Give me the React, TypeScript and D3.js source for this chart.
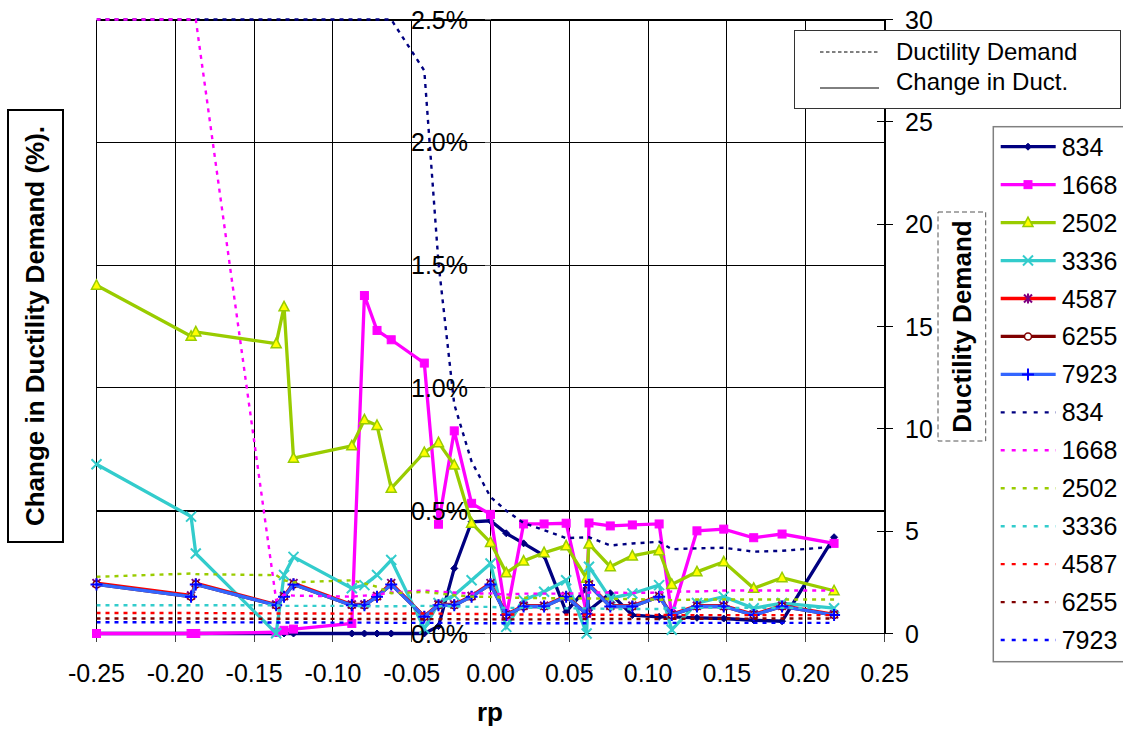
import React from 'react';
import * as d3 from 'd3';

// ---------- data ----------
const rp = [-0.25, -0.19, -0.187, -0.136, -0.131, -0.125, -0.088, -0.08, -0.072, -0.063, -0.042, -0.033, -0.023, -0.012, 0.0, 0.01, 0.021, 0.034, 0.048, 0.061, 0.0625, 0.076, 0.09, 0.107, 0.115, 0.131, 0.148, 0.167, 0.185, 0.218];

// Change in ductility demand (%), left axis
const chg834 = [0, 0, 0, 0, 0, 0, 0, 0, 0, 0, 0, 0.03, 0.265, 0.455, 0.459, 0.408, 0.367, 0.317, 0.088, 0.185, 0.095, 0.164, 0.075, 0.068, 0.068, 0.064, 0.061, 0.054, 0.05, 0.392];
const chg1668 = [0, 0, 0, 0.005, 0.013, 0.018, 0.041, 1.376, 1.234, 1.196, 1.101, 0.445, 0.825, 0.53, 0.485, 0.07, 0.446, 0.446, 0.449, 0.082, 0.45, 0.438, 0.442, 0.446, 0.075, 0.418, 0.425, 0.39, 0.405, 0.367];
const chg2502 = [1.418, 1.21, 1.228, 1.18, 1.33, 0.714, 0.764, 0.87, 0.847, 0.591, 0.737, 0.777, 0.686, 0.449, 0.371, 0.247, 0.295, 0.329, 0.357, 0.225, 0.364, 0.272, 0.316, 0.337, 0.2, 0.251, 0.292, 0.184, 0.227, 0.174];
const chg3336 = [0.689, 0.476, 0.326, 0.001, 0.238, 0.312, 0.184, 0.197, 0.238, 0.299, 0.02, 0.124, 0.156, 0.217, 0.285, 0.027, 0.136, 0.17, 0.217, 0.0, 0.272, 0.143, 0.163, 0.197, 0.015, 0.124, 0.15, 0.103, 0.124, 0.103];
const chg4587 = [0.205, 0.155, 0.205, 0.118, 0.153, 0.205, 0.118, 0.118, 0.153, 0.205, 0.07, 0.118, 0.118, 0.153, 0.205, 0.078, 0.113, 0.113, 0.153, 0.082, 0.2, 0.113, 0.113, 0.153, 0.078, 0.113, 0.113, 0.078, 0.113, 0.078];
const chg6255 = [0.2, 0.15, 0.2, 0.115, 0.15, 0.2, 0.115, 0.115, 0.15, 0.2, 0.068, 0.115, 0.115, 0.15, 0.2, 0.075, 0.11, 0.11, 0.15, 0.08, 0.197, 0.11, 0.11, 0.15, 0.075, 0.11, 0.11, 0.075, 0.11, 0.075];
const chg7923 = [0.2, 0.15, 0.2, 0.115, 0.15, 0.2, 0.115, 0.115, 0.15, 0.2, 0.068, 0.115, 0.115, 0.15, 0.2, 0.075, 0.11, 0.11, 0.15, 0.08, 0.197, 0.11, 0.11, 0.15, 0.075, 0.11, 0.11, 0.075, 0.11, 0.075];

// Ductility demand, right axis
const dd834 = [40, 40, 40, 40, 40, 40, 40, 40, 40, 30.3, 27.5, 18.1, 11.2, 8.4, 6.67, 6.0, 5.4, 5.05, 4.66, 4.7, 4.7, 4.3, 4.4, 4.48, 4.12, 4.16, 4.19, 4.0, 4.04, 4.24];
const dd1668 = [40, 40, 30, 1.63, 1.9, 1.85, 1.8, 1.85, 1.9, 2.0, 2.1, 2.05, 2.0, 1.95, 1.96, 1.9, 1.95, 1.95, 1.95, 1.96, 2.0, 2.0, 1.98, 2.0, 2.05, 2.05, 2.1, 2.1, 2.1, 2.1];
const dd2502 = [2.77, 2.93, 2.9, 2.85, 2.6, 2.5, 2.6, 2.45, 2.28, 1.97, 2.03, 1.96, 1.87, 1.8, 1.79, 1.75, 1.75, 1.72, 1.72, 1.71, 1.71, 1.7, 1.68, 1.65, 1.63, 1.66, 1.66, 1.66, 1.66, 1.66];
const dd3336 = [1.38, 1.38, 1.38, 1.38, 1.35, 1.35, 1.35, 1.33, 1.33, 1.33, 1.35, 1.33, 1.33, 1.3, 1.3, 1.25, 1.25, 1.25, 1.23, 1.23, 1.23, 1.2, 1.2, 1.2, 1.25, 1.25, 1.25, 1.25, 1.25, 1.25];
const dd4587 = [1.0, 1.0, 1.0, 0.98, 0.98, 0.98, 0.97, 0.97, 0.97, 0.97, 0.98, 0.97, 0.96, 0.95, 0.95, 0.93, 0.93, 0.92, 0.92, 0.92, 0.92, 0.91, 0.91, 0.91, 0.9, 0.9, 0.9, 0.9, 0.9, 0.9];
const dd6255 = [0.73, 0.73, 0.73, 0.72, 0.72, 0.72, 0.71, 0.71, 0.71, 0.71, 0.7, 0.7, 0.7, 0.69, 0.69, 0.69, 0.69, 0.69, 0.7, 0.7, 0.7, 0.71, 0.71, 0.71, 0.72, 0.72, 0.72, 0.73, 0.73, 0.73];
const dd7923 = [0.55, 0.55, 0.55, 0.54, 0.54, 0.54, 0.53, 0.53, 0.53, 0.52, 0.52, 0.52, 0.51, 0.5, 0.5, 0.5, 0.5, 0.5, 0.5, 0.5, 0.5, 0.51, 0.51, 0.51, 0.52, 0.52, 0.52, 0.52, 0.52, 0.52];

const seriesNames = ['834', '1668', '2502', '3336', '4587', '6255', '7923'];
const xTicks = [-0.25, -0.2, -0.15, -0.1, -0.05, 0, 0.05, 0.1, 0.15, 0.2, 0.25];
const leftTicks = [0, 0.5, 1.0, 1.5, 2.0, 2.5];
const rightTicks = [0, 5, 10, 15, 20, 25, 30];

// ---------- styles ----------
const solidStyles = [
  { line: '#000080', shape: 'diamond', fill: '#000080', stroke: '#000080' },
  { line: '#FF00FF', shape: 'square', fill: '#FF00FF', stroke: '#FF00FF' },
  { line: '#99CC00', shape: 'triangle', fill: '#FFFF00', stroke: '#99CC00' },
  { line: '#33CCCC', shape: 'x', fill: 'none', stroke: '#33CCCC' },
  { line: '#FF0000', shape: 'star', fill: 'none', stroke: '#800080' },
  { line: '#800000', shape: 'circle', fill: '#FFFFFF', stroke: '#800000' },
  { line: '#3366FF', shape: 'plus', fill: 'none', stroke: '#0000FF' },
];
const dottedColors = ['#000080', '#FF00FF', '#99CC00', '#33CCCC', '#FF0000', '#800000', '#0000FF'];

const FONT = '"Liberation Sans", Arial, Helvetica, sans-serif';
const W = 1123, H = 733;
const PL = 96.5, PR = 884.5, PT = 19.5, PB = 633.5;

function Marker({ shape, cx, cy, fill, stroke }: any) {
  switch (shape) {
    case 'diamond':
      return <path d={`M${cx},${cy - 3.5}L${cx + 3.5},${cy}L${cx},${cy + 3.5}L${cx - 3.5},${cy}Z`} fill={fill} stroke={stroke} strokeWidth={1} />;
    case 'square':
      return <rect x={cx - 4} y={cy - 4} width={8} height={8} fill={fill} stroke={stroke} strokeWidth={1} />;
    case 'triangle':
      return <path d={`M${cx},${cy - 5.5}L${cx + 5},${cy + 4}L${cx - 5},${cy + 4}Z`} fill={fill} stroke={stroke} strokeWidth={1.5} />;
    case 'x':
      return <path d={`M${cx - 5},${cy - 5}L${cx + 5},${cy + 5}M${cx - 5},${cy + 5}L${cx + 5},${cy - 5}`} fill="none" stroke={stroke} strokeWidth={2} />;
    case 'star':
      return <path d={`M${cx - 4},${cy - 4}L${cx + 4},${cy + 4}M${cx - 4},${cy + 4}L${cx + 4},${cy - 4}M${cx},${cy - 5}L${cx},${cy + 5}`} fill="none" stroke={stroke} strokeWidth={2} />;
    case 'circle':
      return <circle cx={cx} cy={cy} r={3.5} fill={fill} stroke={stroke} strokeWidth={1.5} />;
    case 'plus':
      return <path d={`M${cx - 6},${cy}L${cx + 6},${cy}M${cx},${cy - 6}L${cx},${cy + 6}`} fill="none" stroke={stroke} strokeWidth={2} />;
    default:
      return null;
  }
}

export default function App() {
  const x = d3.scaleLinear().domain([-0.25, 0.25]).range([PL, PR]);
  const yL = d3.scaleLinear().domain([0, 2.5]).range([PB, PT]);
  const yR = d3.scaleLinear().domain([0, 30]).range([PB, PT]).clamp(true);

  const chgSeries = [chg834, chg1668, chg2502, chg3336, chg4587, chg6255, chg7923];
  const ddSeries = [dd834, dd1668, dd2502, dd3336, dd4587, dd6255, dd7923];

  const lineL = d3.line<number>().x((_, i) => x(rp[i])).y((d) => yL(d));
  const lineR = d3.line<number>().x((_, i) => x(rp[i])).y((d) => yR(d));

  const fs = 25;
  const legendY0 = 146.7;
  const legendStep = 37.95;
  const px = (v: number) => Math.round(v - 0.5) + 0.5;

  return (
    <svg width={W} height={H} viewBox={`0 0 ${W} ${H}`} style={{ position: 'absolute', left: 0, top: 0, background: '#fff' }} fontFamily={FONT}>
      <defs>
        <clipPath id="plotClip">
          <rect x={PL - 8} y={PT - 2} width={PR - PL + 16} height={PB - PT + 10} />
        </clipPath>
        <clipPath id="plotClipR">
          <rect x={PL} y={PT - 2} width={PR - PL} height={PB - PT + 4} />
        </clipPath>
      </defs>
      <rect x={0} y={0} width={W} height={H} fill="#fff" />

      {/* grid */}
      <g shapeRendering="crispEdges">
        {leftTicks.map((t) => (
          <line key={'hg' + t} x1={PL} x2={PR} y1={px(yL(t))} y2={px(yL(t))} stroke="#000" strokeWidth={t === 0.5 ? 2 : t === 2.5 ? 2 : 1} />
        ))}
        {xTicks.map((t) => (
          <line key={'vg' + t} x1={px(x(t))} x2={px(x(t))} y1={PT} y2={PB} stroke="#000" strokeWidth={t === 0.25 ? 2 : 1} />
        ))}
        {xTicks.map((t) => (
          <line key={'xt' + t} x1={px(x(t))} x2={px(x(t))} y1={PB} y2={PB + 8} stroke="#444" strokeWidth={1} />
        ))}
        {leftTicks.map((t) => (
          <line key={'lt' + t} x1={x(0) - 6} x2={x(0)} y1={px(yL(t))} y2={px(yL(t))} stroke="#666" strokeWidth={1} />
        ))}
        {rightTicks.map((t) => (
          <line key={'rt' + t} x1={PR - 8} x2={PR + 8} y1={px(yR(t))} y2={px(yR(t))} stroke="#000" strokeWidth={1} />
        ))}
      </g>

      {/* solid series */}
      <g clipPath="url(#plotClip)">
        {chgSeries.map((s, k) => (
          <g key={'s' + k}>
            <path d={lineL(s) || ''} fill="none" stroke={solidStyles[k].line} strokeWidth={3.3} strokeLinejoin="miter" />
            {s.map((v, i) => (
              <Marker key={i} shape={solidStyles[k].shape} cx={x(rp[i])} cy={yL(v)} fill={solidStyles[k].fill} stroke={solidStyles[k].stroke} />
            ))}
          </g>
        ))}
      </g>

      {/* dotted series (right axis) */}
      <g clipPath="url(#plotClipR)">
        {ddSeries.map((s, k) => (
          <path key={'d' + k} d={lineR(s) || ''} fill="none" stroke={dottedColors[k]} strokeWidth={2.4} strokeDasharray="4 5" />
        ))}
      </g>

      {/* left tick labels */}
      {leftTicks.map((t) => (
        <text key={'ll' + t} x={468} y={yL(t) + 9} textAnchor="end" fontSize={fs} fill="#000">
          {t.toFixed(1) + '%'}
        </text>
      ))}
      {/* right tick labels */}
      {rightTicks.map((t) => (
        <text key={'rl' + t} x={905} y={yR(t) + 9} textAnchor="start" fontSize={fs} fill="#000">
          {String(t)}
        </text>
      ))}
      {/* x tick labels */}
      {xTicks.map((t) => (
        <text key={'xl' + t} x={x(t)} y={682} textAnchor="middle" fontSize={fs} fill="#000">
          {t.toFixed(2)}
        </text>
      ))}
      <text x={490} y={721} textAnchor="middle" fontSize={26} fontWeight="bold">rp</text>

      {/* left title */}
      <rect x={8} y={110} width={55} height={432} fill="#fff" stroke="#000" strokeWidth={2} />
      <text transform={`translate(44,326) rotate(-90)`} textAnchor="middle" fontSize={26} fontWeight="bold">
        Change in Ductility Demand (%).
      </text>

      {/* right title */}
      <rect x={938} y={212} width={47.7} height={229} fill="#fff" stroke="#555" strokeWidth={1} strokeDasharray="5 3" />
      <text transform={`translate(971,326.5) rotate(-90)`} textAnchor="middle" fontSize={26} fontWeight="bold">
        Ductility Demand
      </text>

      {/* legend 1 */}
      <rect x={794.5} y={30.5} width={326} height={78} fill="#fff" stroke="#333" strokeWidth={1} />
      <line x1={820} x2={878} y1={52} y2={52} stroke="#000" strokeWidth={1} strokeDasharray="3.5 2.5" />
      <line x1={820} x2={879} y1={88} y2={88} stroke="#000" strokeWidth={1} />
      <text x={896} y={60} fontSize={24}>Ductility Demand</text>
      <text x={896} y={90} fontSize={24}>Change in Duct.</text>

      {/* legend 2 */}
      <rect x={993.3} y={126.7} width={140} height={535} fill="#fff" stroke="#808080" strokeWidth={1.5} />
      {seriesNames.map((n, k) => {
        const cy = legendY0 + k * legendStep;
        return (
          <g key={'lg' + k}>
            <line x1={1000.7} x2={1055.7} y1={cy} y2={cy} stroke={solidStyles[k].line} strokeWidth={3.3} />
            <Marker shape={solidStyles[k].shape} cx={1028} cy={cy} fill={solidStyles[k].fill} stroke={solidStyles[k].stroke} />
            <text x={1061.7} y={cy + 9} fontSize={fs}>{n}</text>
          </g>
        );
      })}
      {seriesNames.map((n, k) => {
        const cy = legendY0 + (k + 7) * legendStep;
        return (
          <g key={'ld' + k}>
            <line x1={1000.7} x2={1056} y1={cy} y2={cy} stroke={dottedColors[k]} strokeWidth={2.4} strokeDasharray="4 7" />
            <text x={1061.7} y={cy + 9} fontSize={fs}>{n}</text>
          </g>
        );
      })}
    </svg>
  );
}
